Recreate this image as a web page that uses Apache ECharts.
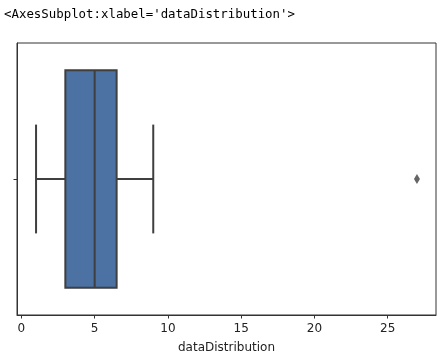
<!DOCTYPE html>
<html>
<head>
<meta charset="utf-8">
<script src="https://cdn.jsdelivr.net/npm/echarts@6/dist/echarts.min.js"></script>
<style>
html,body{margin:0;padding:0;background:#fff;}
#title{position:absolute;left:4px;top:6px;font-family:"DejaVu Sans Mono",monospace;font-size:12.4px;color:#000;white-space:pre;}
#chart{position:absolute;left:0;top:0;width:440px;height:362px;}
</style>
</head>
<body>
<div id="chart"></div>
<div id="title">&lt;AxesSubplot:xlabel='dataDistribution'&gt;</div>
<script>
const categories = [''];
const boxStats = [1, 3, 5, 6.5, 9]; // low whisker, q1, median, q3, high whisker
const outliers = [27];
const xTicks = [0, 5, 10, 15, 20, 25];
const xLabel = 'dataDistribution';

const chart = echarts.init(document.getElementById('chart'), null, {renderer: 'canvas'});
const lineColor = '#3f3f3f';
const boxColor = '#4c71a3';

chart.setOption({
  animation: false,
  grid: {left: 17, right: 4, top: 43, bottom: 47, show: true, borderColor: '#333', borderWidth: 1, backgroundColor: 'transparent'},
  xAxis: {
    type: 'value', min: -0.3, max: 28.3,
    name: xLabel, nameLocation: 'middle', nameGap: 27,
    nameTextStyle: {fontFamily: 'DejaVu Sans', fontSize: 12, color: '#222'},
    axisLine: {show: true, onZero: false, lineStyle: {color: '#333', width: 1}},
    axisTick: {show: true, length: 3.5, lineStyle: {color: '#333', width: 1}, customValues: xTicks},
    axisLabel: {fontFamily: 'DejaVu Sans', fontSize: 12, color: '#222', margin: 8, customValues: xTicks},
    splitLine: {show: false}
  },
  yAxis: {
    type: 'category', data: categories, boundaryGap: true,
    axisLine: {show: true, onZero: false, lineStyle: {color: '#333', width: 1}},
    axisTick: {show: true, length: 3.5, alignWithLabel: true, lineStyle: {color: '#333', width: 1}},
    axisLabel: {show: false},
    splitLine: {show: false}
  },
  series: [
    {
      type: 'custom',
      data: [[0].concat(boxStats)],
      encode: {x: [1, 2, 3, 4, 5], y: 0},
      renderItem: function (params, api) {
        const c = api.value(0);
        const band = api.size([0, 1])[1];
        const half = band * 0.8 / 2;
        const capHalf = half / 2;
        const pLow = api.coord([api.value(1), c]);
        const pQ1 = api.coord([api.value(2), c]);
        const pMed = api.coord([api.value(3), c]);
        const pQ3 = api.coord([api.value(4), c]);
        const pHigh = api.coord([api.value(5), c]);
        const cy = pQ1[1];
        const ls = {stroke: lineColor, lineWidth: 2};
        return {
          type: 'group',
          children: [
            {type: 'line', shape: {x1: pLow[0], y1: cy, x2: pQ1[0], y2: cy}, style: ls},
            {type: 'line', shape: {x1: pQ3[0], y1: cy, x2: pHigh[0], y2: cy}, style: ls},
            {type: 'line', shape: {x1: pLow[0], y1: cy - capHalf, x2: pLow[0], y2: cy + capHalf}, style: ls},
            {type: 'line', shape: {x1: pHigh[0], y1: cy - capHalf, x2: pHigh[0], y2: cy + capHalf}, style: ls},
            {type: 'rect', shape: {x: pQ1[0], y: cy - half, width: pQ3[0] - pQ1[0], height: half * 2}, style: {fill: boxColor, stroke: lineColor, lineWidth: 2}},
            {type: 'line', shape: {x1: pMed[0], y1: cy - half, x2: pMed[0], y2: cy + half}, style: ls}
          ]
        };
      }
    },
    {
      type: 'scatter',
      data: outliers.map(v => [v, 0]),
      symbol: 'diamond',
      symbolSize: [6, 10],
      itemStyle: {color: lineColor}
    }
  ]
});
</script>
</body>
</html>
